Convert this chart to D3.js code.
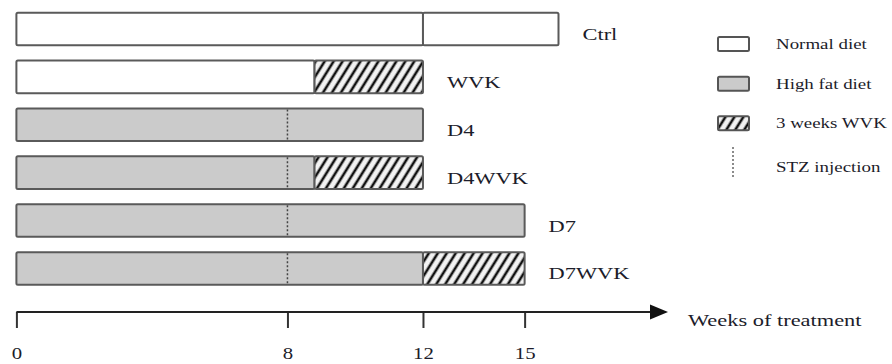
<!DOCTYPE html>
<html>
<head>
<meta charset="utf-8">
<script src="https://cdn.jsdelivr.net/npm/d3@7/dist/d3.min.js"></script>
<style>
  html, body { margin: 0; padding: 0; background: #fff; }
  svg { display: block; }
  text { font-family: "Liberation Serif", "Times New Roman", serif; fill: #1c1c2a; }
</style>
</head>
<body>
<svg id="chart" width="892" height="364"></svg>
<script>
// ---- data ----
const groups = ["Ctrl", "WVK", "D4", "D4WVK", "D7", "D7WVK"];
const segGroup = ["Ctrl", "Ctrl", "WVK", "WVK", "D4", "D4WVK", "D4WVK", "D7", "D7WVK", "D7WVK"];
const segStart = [0, 12, 0, 8.8, 0, 0, 8.8, 0, 0, 12];
const segEnd   = [12, 16, 8.8, 12, 12, 8.8, 12, 15, 12, 15];
const segType  = ["normal", "normal", "normal", "wvk", "hfd", "hfd", "wvk", "hfd", "hfd", "wvk"];
const stzGroups = ["D4", "D4WVK", "D7", "D7WVK"];
const stzWeek = 8;
const tickValues = [0, 8, 12, 15];
const axisTitle = "Weeks of treatment";
const legendTypes = ["normal", "hfd", "wvk", "stz"];
const legendLabels = ["Normal diet", "High fat diet", "3 weeks WVK", "STZ injection"];

// ---- setup ----
const svg = d3.select("#chart");
const defs = svg.append("defs");
const pat = defs.append("pattern")
  .attr("id", "hatch")
  .attr("patternUnits", "userSpaceOnUse")
  .attr("width", 7.6).attr("height", 10)
  .attr("patternTransform", "rotate(32)");
pat.append("rect").attr("width", 7.6).attr("height", 10).attr("fill", "#f2f2f2");
pat.append("line").attr("x1", 3.8).attr("x2", 3.8).attr("y1", 0).attr("y2", 10)
  .attr("stroke", "#111").attr("stroke-width", 2.6);

const fills = { normal: "#ffffff", hfd: "#cbcbcb", wvk: "url(#hatch)" };

const x = d3.scaleLinear().domain([0, 16]).range([16.4, 558.5]);
const y = d3.scaleBand().domain(groups).range([12.7, 284.7]).paddingInner(0.32).paddingOuter(0);
const bh = y.bandwidth();
const SX = 1.4; // horizontal stretch of text in the reference

const segs = segGroup.map((g, i) => ({ g, s: segStart[i], e: segEnd[i], t: segType[i] }));

// bars
svg.append("g").selectAll("rect").data(segs).join("rect")
  .attr("x", d => x(d.s))
  .attr("y", d => y(d.g))
  .attr("width", d => x(d.e) - x(d.s))
  .attr("height", bh)
  .attr("rx", 1.5)
  .attr("fill", d => fills[d.t])
  .attr("stroke", "#5a5a5a")
  .attr("stroke-width", 2);

// STZ dotted lines
svg.append("g").selectAll("line").data(stzGroups).join("line")
  .attr("x1", x(stzWeek)).attr("x2", x(stzWeek))
  .attr("y1", d => y(d) + 1).attr("y2", d => y(d) + bh - 1)
  .attr("stroke", "#444").attr("stroke-width", 1.5)
  .attr("stroke-dasharray", "2,2");

// group labels
const groupEnd = g => d3.max(segs.filter(s => s.g === g), s => s.e);
svg.append("g").selectAll("text").data(groups).join("text")
  .attr("transform", d => `translate(${x(groupEnd(d)) + 24},${y(d) + bh / 2 + 11}) scale(${SX},1)`)
  .attr("font-size", 16)
  .text(d => d);

// axis
const axisY = 312;
const axis = svg.append("g").attr("transform", `translate(0,${axisY})`)
  .call(d3.axisBottom(x).tickValues(tickValues).tickSize(16).tickPadding(20).tickFormat(d3.format("d")));
axis.select(".domain").remove();
axis.selectAll(".tick line").attr("stroke", "#333").attr("stroke-width", 2);
axis.selectAll(".tick text")
  .attr("font-size", 16)
  .attr("font-family", "Liberation Serif, serif")
  .attr("fill", "#1c1c2a")
  .attr("transform", `scale(1.3,1)`);

svg.append("line")
  .attr("x1", x(0)).attr("x2", 654)
  .attr("y1", axisY).attr("y2", axisY)
  .attr("stroke", "#222").attr("stroke-width", 2);
svg.append("path")
  .attr("d", `M650,${axisY - 7.5} L668,${axisY} L650,${axisY + 7.5} Z`)
  .attr("fill", "#111");
svg.append("text")
  .attr("transform", `translate(688,${axisY + 14}) scale(${SX},1)`)
  .attr("font-size", 16)
  .text(axisTitle);

// legend
const legY = d3.scalePoint().domain(legendTypes).range([44, 163]);
const leg = svg.append("g").selectAll("g").data(legendTypes).join("g")
  .attr("transform", d => `translate(0,${legY(d)})`);
leg.filter(d => d !== "stz").append("rect")
  .attr("x", 718).attr("y", -7).attr("width", 31).attr("height", 14).attr("rx", 1.5)
  .attr("fill", d => fills[d]).attr("stroke", "#555").attr("stroke-width", 2);
leg.filter(d => d === "stz").append("line")
  .attr("x1", 733).attr("x2", 733).attr("y1", -16).attr("y2", 14)
  .attr("stroke", "#666").attr("stroke-width", 1.5).attr("stroke-dasharray", "2,2");
leg.append("text")
  .attr("transform", (d, i) => `translate(776,${(d === "stz" ? 4 : 0) + 5}) scale(1.35,1)`)
  .attr("font-size", 14)
  .text((d, i) => legendLabels[i]);
</script>
</body>
</html>
